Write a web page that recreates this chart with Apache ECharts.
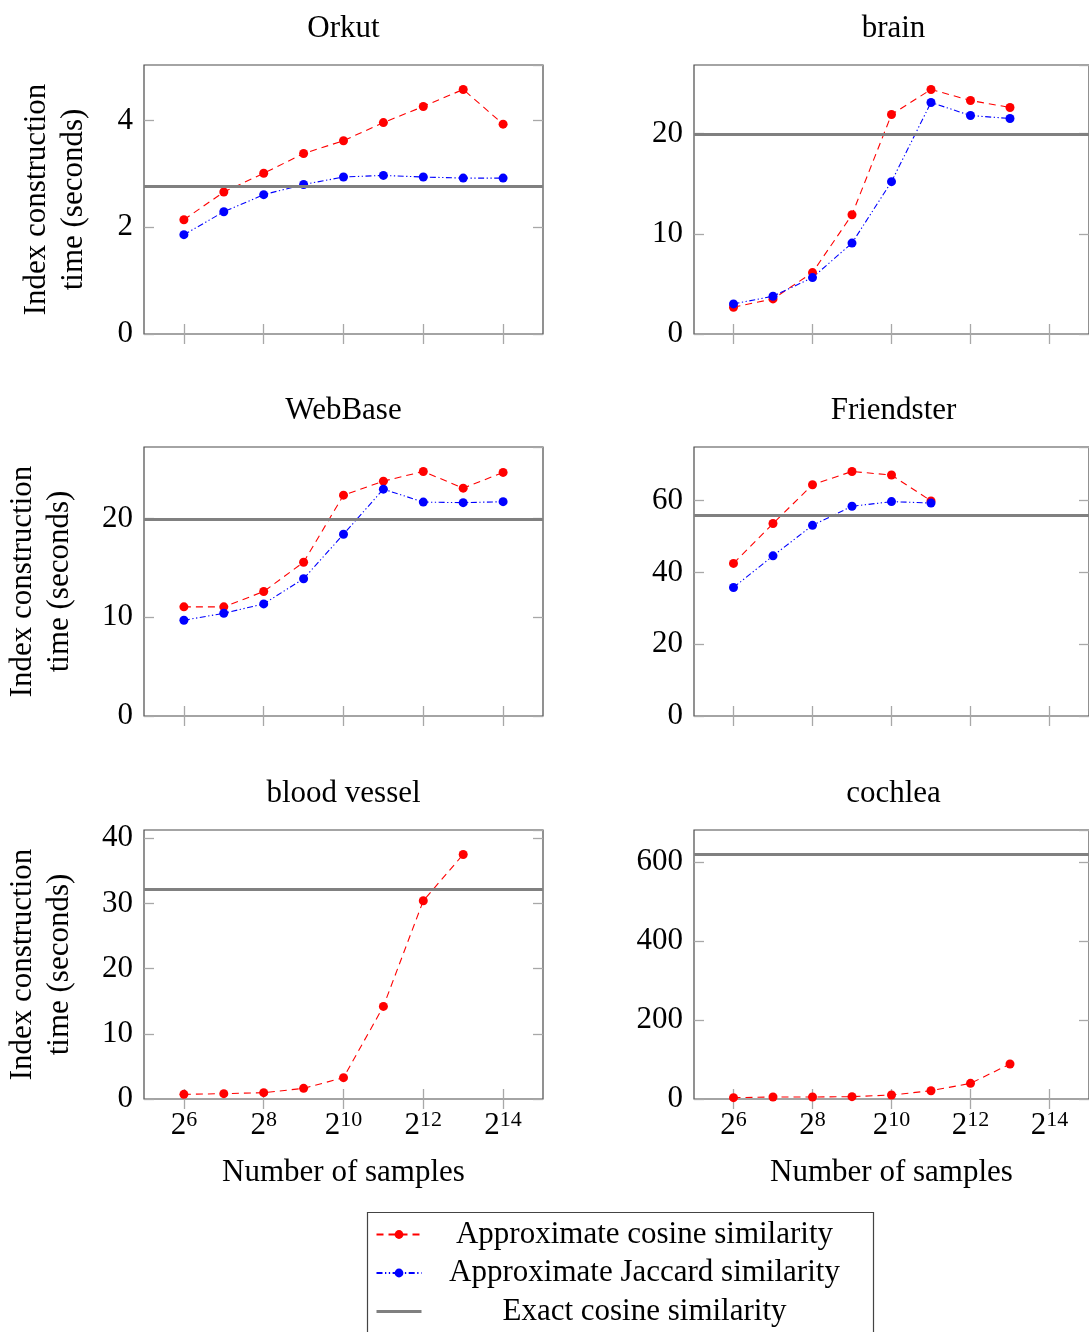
<!DOCTYPE html>
<html>
<head>
<meta charset="utf-8">
<script src="https://cdn.jsdelivr.net/npm/echarts@6/dist/echarts.min.js"></script>
<style>
  html, body { margin: 0; padding: 0; background: #fff; }
  #chart { width: 1089px; height: 1332px; }
</style>
</head>
<body>
<div id="chart"></div>
<script>
// Sample counts at which the index was built, and the full axis extent (2^5 .. 2^15)
const sampleSizes = [64, 128, 256, 512, 1024, 2048, 4096, 8192, 16384];
const axisSampleSizes = [32, 64, 128, 256, 512, 1024, 2048, 4096, 8192, 16384, 32768];

// Index construction time in seconds, per dataset
const orkutCosine = [2.14, 2.66, 3.01, 3.38, 3.62, 3.96, 4.26, 4.58, 3.93];
const orkutJaccard = [1.86, 2.29, 2.61, 2.80, 2.94, 2.97, 2.94, 2.92, 2.92];
const orkutExact = 2.76;

const brainCosine = [2.67, 3.5, 6.13, 11.9, 21.9, 24.4, 23.3, 22.6];
const brainJaccard = [3.0, 3.77, 5.63, 9.07, 15.2, 23.1, 21.8, 21.5];
const brainExact = 19.9;

const webbaseCosine = [11.05, 11.05, 12.6, 15.57, 22.36, 23.78, 24.76, 23.07, 24.66];
const webbaseJaccard = [9.70, 10.4, 11.35, 13.9, 18.4, 22.97, 21.66, 21.6, 21.7];
const webbaseExact = 19.95;

const friendsterCosine = [42.5, 53.6, 64.4, 68.1, 67.1, 59.9];
const friendsterJaccard = [35.8, 44.6, 53.1, 58.4, 59.7, 59.3];
const friendsterExact = 55.8;

const bloodVesselCosine = [0.71, 0.82, 0.97, 1.63, 3.27, 14.2, 30.4, 37.5];
const bloodVesselExact = 32.2;

const cochleaCosine = [3.4, 5.0, 5.0, 5.9, 10.1, 21.0, 39.7, 88.6];
const cochleaExact = 620;

// Y tick steps per dataset
const yTickSteps = [2, 10, 10, 20, 10, 200];

const FONT = "'Liberation Serif', 'Times New Roman', serif";
const FS = 31;
const COSINE = 'Approximate cosine similarity';
const JACCARD = 'Approximate Jaccard similarity';
const EXACT = 'Exact cosine similarity';

const panels = [
  { title: 'Orkut', cosine: orkutCosine, jaccard: orkutJaccard, exact: orkutExact },
  { title: 'brain', cosine: brainCosine, jaccard: brainJaccard, exact: brainExact },
  { title: 'WebBase', cosine: webbaseCosine, jaccard: webbaseJaccard, exact: webbaseExact },
  { title: 'Friendster', cosine: friendsterCosine, jaccard: friendsterJaccard, exact: friendsterExact },
  { title: 'blood vessel', cosine: bloodVesselCosine, jaccard: null, exact: bloodVesselExact },
  { title: 'cochlea', cosine: cochleaCosine, jaccard: null, exact: cochleaExact }
];

// Panel geometry (2 columns x 3 rows)
const colLeft = [144, 694];
const rowTop = [65, 447, 830];
const PANEL_W = 399;
const PANEL_H = 269;

const categories = axisSampleSizes.map(String);
const isEvenPower = (idx) => idx % 2 === 1;

const DASHED = [7, 5];
const DASH_DOT_DOT = [6, 2.5, 1.3, 2.5, 1.3, 2.5];

function toPairs(values) {
  return values.map((v, i) => [String(sampleSizes[i]), v]);
}

const grids = [], xAxes = [], yAxes = [], series = [], titles = [];

panels.forEach((p, k) => {
  const col = k % 2, row = Math.floor(k / 2);
  const left = colLeft[col], top = rowTop[row];
  const all = p.cosine.concat(p.jaccard || [], [p.exact]);
  const yMax = 1.1 * Math.max(...all);
  const step = yTickSteps[k];
  const bottomRow = row === 2;

  grids.push({
    left: left, top: top, width: PANEL_W, height: PANEL_H,
    show: true, borderColor: '#4a4a4a', borderWidth: 1.2, backgroundColor: 'transparent'
  });

  titles.push({
    text: p.title, left: left + PANEL_W / 2, top: top - 52, textAlign: 'center', padding: 0,
    textStyle: { fontFamily: FONT, fontSize: FS, fontWeight: 'normal', color: '#000' }
  });

  const tick = { show: true, inside: true, length: 10, interval: isEvenPower,
    lineStyle: { color: '#a8a8a8', width: 1.3 } };

  xAxes.push({
    gridIndex: k, type: 'category', data: categories, boundaryGap: false, position: 'bottom',
    axisLine: { show: false }, axisTick: tick, splitLine: { show: false },
    axisLabel: {
      show: bottomRow, interval: isEvenPower, margin: 10,
      formatter: (v) => '{b|2}{s|' + Math.round(Math.log2(Number(v))) + '}',
      rich: {
        b: { fontFamily: FONT, fontSize: FS, color: '#000', lineHeight: 34 },
        s: { fontFamily: FONT, fontSize: 22, color: '#000', lineHeight: 20, verticalAlign: 'top' }
      }
    },
    name: bottomRow ? 'Number of samples' : '', nameLocation: 'middle', nameGap: 58,
    nameTextStyle: { fontFamily: FONT, fontSize: FS, color: '#000' }
  });
  xAxes.push({
    gridIndex: k, type: 'category', data: categories, boundaryGap: false, position: 'top',
    axisLine: { show: false }, axisTick: tick, axisLabel: { show: false }, splitLine: { show: false }
  });

  const yTick = { show: true, inside: true, length: 10, lineStyle: { color: '#a8a8a8', width: 1.3 } };
  yAxes.push({
    gridIndex: k, type: 'value', min: 0, max: yMax, interval: step, position: 'left',
    axisLine: { show: false }, axisTick: yTick, splitLine: { show: false },
    axisLabel: { margin: 11, showMaxLabel: false, fontFamily: FONT, fontSize: FS, color: '#000' },
    name: col === 0 ? 'Index construction\ntime (seconds)' : '',
    nameLocation: 'middle', nameRotate: 90, nameGap: k === 0 ? 52 : 66,
    nameTextStyle: { fontFamily: FONT, fontSize: FS, color: '#000', lineHeight: 37 }
  });
  yAxes.push({
    gridIndex: k, type: 'value', min: 0, max: yMax, interval: step, position: 'right',
    axisLine: { show: false }, axisTick: yTick, axisLabel: { show: false }, splitLine: { show: false }
  });

  series.push({
    name: EXACT, type: 'line', xAxisIndex: 2 * k, yAxisIndex: 2 * k, data: [],
    symbol: 'none', color: '#808080', lineStyle: { color: '#808080', width: 3 },
    markLine: {
      silent: true, symbol: ['none', 'none'], label: { show: false },
      lineStyle: { color: '#808080', width: 3, type: 'solid' },
      emphasis: { disabled: true },
      data: [{ yAxis: p.exact }]
    }
  });
  series.push({
    name: COSINE, type: 'line', xAxisIndex: 2 * k, yAxisIndex: 2 * k, data: toPairs(p.cosine),
    symbol: 'circle', symbolSize: 9, color: '#ff0000',
    lineStyle: { color: '#ff0000', width: 1.1, type: DASHED },
    itemStyle: { color: '#ff0000' }
  });
  if (p.jaccard) {
    series.push({
      name: JACCARD, type: 'line', xAxisIndex: 2 * k, yAxisIndex: 2 * k, data: toPairs(p.jaccard),
      symbol: 'circle', symbolSize: 9, color: '#0000ff',
      lineStyle: { color: '#0000ff', width: 1.1, type: DASH_DOT_DOT },
      itemStyle: { color: '#0000ff' }
    });
  }
});

const chart = echarts.init(document.getElementById('chart'), null, { renderer: 'canvas' });
chart.setOption({
  animation: false,
  backgroundColor: '#fff',
  title: titles,
  grid: grids,
  xAxis: xAxes,
  yAxis: yAxes,
  // Legend frame
  graphic: [{
    type: 'rect', left: 365, top: 1210, silent: true,
    shape: { width: 506, height: 140 },
    style: { fill: 'none', stroke: '#444', lineWidth: 1.2 }
  }],
  legend: {
    orient: 'vertical', left: 375, top: 1219, padding: 0,
    itemWidth: 45, itemHeight: 11, itemGap: 7.5,
    selectedMode: false,
    data: [
      COSINE,
      JACCARD,
      { name: EXACT, itemStyle: { opacity: 0 }, lineStyle: { width: 3, color: '#808080' } }
    ],
    formatter: (name) => '{c|' + name + '}',
    textStyle: {
      rich: { c: { width: 436, align: 'center', fontFamily: FONT, fontSize: FS, color: '#000', lineHeight: 30 } }
    }
  },
  series: series
});
</script>
</body>
</html>
